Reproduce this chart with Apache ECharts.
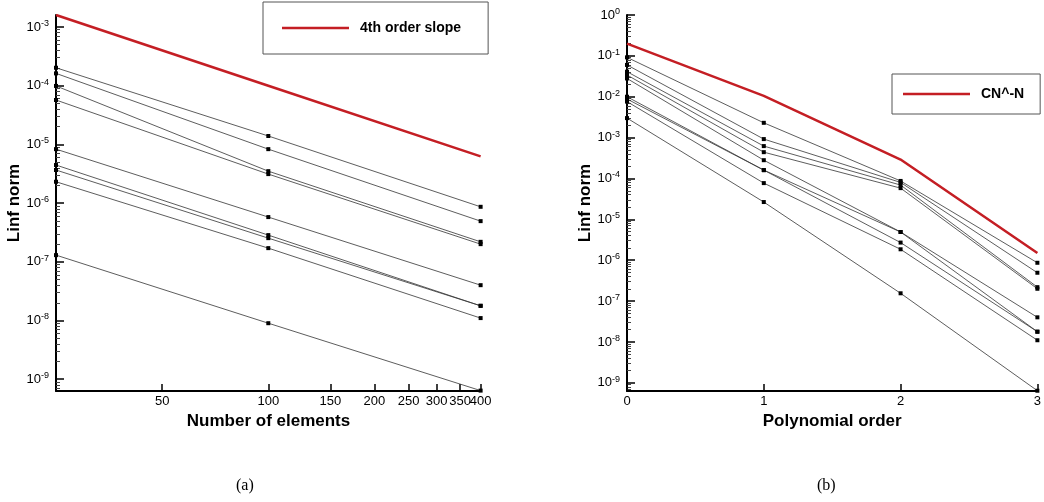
<!DOCTYPE html>
<html>
<head>
<meta charset="utf-8">
<script src="https://cdn.jsdelivr.net/npm/echarts@6/dist/echarts.min.js"></script>
<style>
html,body{margin:0;padding:0;background:#fff;}
#chart{width:1044px;height:502px;}
</style>
</head>
<body>
<div id="chart"></div>
<script>
// ---- Data ----
const elementCounts = [25, 100, 400];
const slopeRef = [1.6e-3, 1.0e-4, 6.25e-6];
const elementErrors = [
  [2.02e-4, 1.39e-5, 8.65e-7],
  [1.62e-4, 8.3e-6, 4.93e-7],
  [9.9e-5, 3.5e-6, 2.19e-7],
  [5.7e-5, 3.12e-6, 2.0e-7],
  [8.3e-6, 5.78e-7, 4.0e-8],
  [4.45e-6, 2.85e-7, 1.78e-8],
  [3.66e-6, 2.53e-7, 1.78e-8],
  [2.31e-6, 1.71e-7, 1.1e-8],
  [1.3e-7, 9.0e-9, 6.4e-10]
];
const polyOrders = [0, 1, 2, 3];
const cnRef = [0.2, 0.0105, 2.9e-4, 1.5e-6];
const orderErrors = [
  [0.092, 2.3e-3, 8.7e-5, 8.65e-7],
  [0.060, 9.2e-4, 8.0e-5, 4.93e-7],
  [0.041, 6.2e-4, 6.9e-5, 2.19e-7],
  [0.034, 4.4e-4, 5.8e-5, 2.0e-7],
  [0.028, 2.8e-4, 4.9e-6, 4.0e-8],
  [0.010, 1.6e-4, 4.9e-6, 1.78e-8],
  [0.0088, 1.6e-4, 2.7e-6, 1.78e-8],
  [0.0076, 7.7e-5, 1.85e-6, 1.1e-8],
  [0.003, 2.65e-5, 1.55e-7, 6.4e-10]
];
const xTicksLeft = [50, 100, 150, 200, 250, 300, 350, 400];
const xLabelsLeftA = [50, 100, 150, 200, 250, 300, 350];
const xLabelsLeftB = [400];
const yMajorLeft = [1e-9, 1e-8, 1e-7, 1e-6, 1e-5, 1e-4, 1e-3];
const yMajorRight = [1e-9, 1e-8, 1e-7, 1e-6, 1e-5, 1e-4, 1e-3, 1e-2, 1e-1, 1];

// ---- Helpers ----
function minorTicks(lo, hi) {
  const out = [];
  for (let e = -10; e <= 0; e++) {
    for (let k = 2; k <= 9; k++) {
      const v = parseFloat((k * Math.pow(10, e)).toPrecision(6));
      if (v > lo && v < hi) out.push(v);
    }
  }
  return out;
}
const FONT = 'Liberation Sans, Arial, Helvetica, sans-serif';
const expLabel = {
  inside: false,
  margin: 7,
  formatter: v => '{b|10}{s|' + Math.round(Math.log10(v)) + '}',
  rich: {
    b: {fontSize: 13, fontFamily: FONT, color: '#000', lineHeight: 16},
    s: {fontSize: 9, fontFamily: FONT, color: '#000', verticalAlign: 'top', lineHeight: 9}
  }
};
const axisLineStyle = {show: true, lineStyle: {color: '#000', width: 2}};
const nameStyle = {fontSize: 17, fontWeight: 'bold', fontFamily: FONT, color: '#000'};
const tickLabelStyle = {margin: 4, fontSize: 13, fontFamily: FONT, color: '#000'};

const Lmin = 6.3e-10, LmaxL = 1.6e-3, LmaxR = 1;
const RED = '#c41e24';

function majorY(grid, max, vals) {
  return {
    type: 'log', gridIndex: grid, min: Lmin, max: max, position: 'left',
    name: 'Linf norm', nameLocation: 'middle', nameGap: 27, nameTextStyle: nameStyle,
    axisLine: axisLineStyle,
    axisTick: {show: true, inside: true, length: 8, lineStyle: {color: '#000', width: 1.5}, customValues: vals},
    axisLabel: Object.assign({customValues: vals}, expLabel),
    splitLine: {show: false}, minorTick: {show: false}
  };
}
function minorY(grid, max) {
  return {
    type: 'log', gridIndex: grid, min: Lmin, max: max, position: 'left', offset: 0,
    axisLine: {show: false},
    axisTick: {show: true, inside: true, length: 4, lineStyle: {color: '#444', width: 1}, customValues: minorTicks(Lmin, max)},
    axisLabel: {show: false},
    splitLine: {show: false}
  };
}

const series = [];
series.push({
  name: '4th order slope', type: 'line', xAxisIndex: 0, yAxisIndex: 0,
  data: elementCounts.map((n, i) => [n, slopeRef[i]]),
  symbol: 'none', lineStyle: {color: RED, width: 2.5}, itemStyle: {color: RED}, z: 5
});
elementErrors.forEach((row, j) => {
  series.push({
    name: 'caseA' + j, type: 'line', xAxisIndex: 0, yAxisIndex: 0,
    data: elementCounts.map((n, i) => [n, row[i]]),
    symbol: 'rect', symbolSize: 4, showSymbol: true,
    lineStyle: {color: '#333', width: 0.8}, itemStyle: {color: '#000'}, clip: true
  });
});
series.push({
  name: 'CN^-N', type: 'line', xAxisIndex: 1, yAxisIndex: 2,
  data: polyOrders.map((p, i) => [p, cnRef[i]]),
  symbol: 'none', lineStyle: {color: RED, width: 2.5}, itemStyle: {color: RED}, z: 5
});
orderErrors.forEach((row, j) => {
  series.push({
    name: 'caseB' + j, type: 'line', xAxisIndex: 1, yAxisIndex: 2,
    data: polyOrders.map((p, i) => [p, row[i]]),
    symbol: 'rect', symbolSize: 4, showSymbol: true,
    lineStyle: {color: '#333', width: 0.8}, itemStyle: {color: '#000'}, clip: true
  });
});

const legendText = {fontSize: 14, fontWeight: 'bold', fontFamily: FONT, color: '#000', padding: [0, 0, 0, 6]};
const chart = echarts.init(document.getElementById('chart'), null, {renderer: 'canvas'});
chart.setOption({
  animation: false,
  backgroundColor: '#fff',
  grid: [
    {left: 56, top: 15, width: 425, height: 376},
    {left: 627, top: 15, width: 415, height: 376}
  ],
  xAxis: [
    {
      type: 'log', gridIndex: 0, min: 25, max: 401,
      name: 'Number of elements', nameLocation: 'middle', nameGap: 17, nameTextStyle: nameStyle,
      axisLine: axisLineStyle,
      axisTick: {show: true, inside: true, length: 7, lineStyle: {color: '#000', width: 1.5}, customValues: xTicksLeft},
      axisLabel: Object.assign({customValues: xLabelsLeftA, formatter: v => String(Math.round(v)), showMaxLabel: true}, tickLabelStyle),
      splitLine: {show: false}
    },
    {
      type: 'value', gridIndex: 1, min: 0, max: 3, interval: 1,
      name: 'Polynomial order', nameLocation: 'middle', nameGap: 17, nameTextStyle: nameStyle,
      axisLine: axisLineStyle,
      axisTick: {show: true, inside: true, length: 7, lineStyle: {color: '#000', width: 1.5}},
      axisLabel: tickLabelStyle,
      splitLine: {show: false}
    },
    {
      type: 'log', gridIndex: 0, min: 25, max: 401, position: 'bottom', offset: 0,
      axisLine: {show: false}, axisTick: {show: false},
      axisLabel: Object.assign({customValues: xLabelsLeftB, formatter: v => String(Math.round(v)), showMaxLabel: true}, tickLabelStyle),
      splitLine: {show: false}
    }
  ],
  yAxis: [
    majorY(0, LmaxL, yMajorLeft),
    minorY(0, LmaxL),
    majorY(1, LmaxR, yMajorRight),
    minorY(1, LmaxR)
  ],
  legend: [
    {
      data: [{name: '4th order slope', icon: 'rect', itemStyle: {color: RED}}], left: 263, top: 2,
      padding: [19, 27, 19, 19], borderColor: '#555', borderWidth: 1,
      itemWidth: 67, itemHeight: 2.5,
      textStyle: legendText
    },
    {
      data: [{name: 'CN^-N', icon: 'rect', itemStyle: {color: RED}}], left: 892, top: 74,
      padding: [13, 16, 13, 11], borderColor: '#555', borderWidth: 1,
      itemWidth: 67, itemHeight: 2.5,
      textStyle: legendText
    }
  ],
  graphic: [
    {type: 'text', left: 236, top: 478, style: {text: '(a)', fontSize: 16, fontFamily: 'Liberation Serif, DejaVu Serif, serif', fill: '#000'}},
    {type: 'text', left: 817, top: 478, style: {text: '(b)', fontSize: 16, fontFamily: 'Liberation Serif, DejaVu Serif, serif', fill: '#000'}}
  ],
  series: series
});
</script>
</body>
</html>
